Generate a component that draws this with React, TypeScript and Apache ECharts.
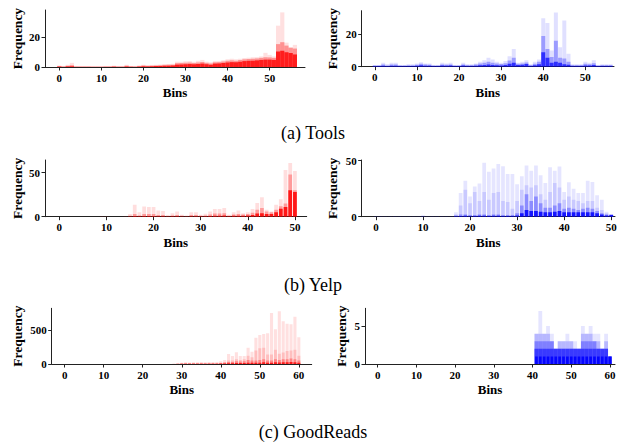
import React, { useEffect, useRef } from "react";
import * as echarts from "echarts";

// ---------- Tick labels ----------
const TOOLS_X_TICKS = [0, 10, 20, 30, 40, 50];
const YELP_X_TICKS = [0, 10, 20, 30, 40, 50];
const GOODREADS_X_TICKS = [0, 10, 20, 30, 40, 50, 60];
const TOOLS_RED_Y_TICKS = [0, 20];
const TOOLS_BLUE_Y_TICKS = [0, 20];
const YELP_RED_Y_TICKS = [0, 50];
const YELP_BLUE_Y_TICKS = [0, 50];
const GOODREADS_RED_Y_TICKS = [0, 500];
const GOODREADS_BLUE_Y_TICKS = [0, 5];

const CAPTIONS = ["(a) Tools", "(b) Yelp", "(c) GoodReads"];

// ---------- Histogram layers (frequency per bin, first bin given by *_START) ----------
// Tools, red (bins 0..56)
const TOOLS_RED_START = 0;
const TOOLS_RED_L1 = [
  1, 0.5, 1.5, 2.8, 0.6, 0.5, 0.5, 0.5, 0.4, 0.4,
  0.4, 0.6, 0.6, 0.9, 0.6, 0.6, 1.6, 0.6, 0.6, 1.1,
  1.6, 1.2, 1.4, 1.6, 1.7, 2, 2.1, 2.2, 3.6, 3.6,
  3.9, 4, 3.6, 4.2, 4.8, 3.6, 3.2, 4, 4.1, 4.6,
  5.2, 5.6, 5.2, 5.6, 6.1, 6.3, 6.6, 6.7, 7.2, 9.6,
  8.2, 7.2, 28, 37, 16.5, 13.5, 15,
];
const TOOLS_RED_L2 = [
  0.6, 0.3, 0.8, 1.2, 0.3, 0.3, 0.3, 0.3, 0.2, 0.2,
  0.2, 0.3, 0.3, 0.5, 0.3, 0.3, 0.8, 0.3, 0.3, 0.6,
  1, 0.8, 0.9, 1.1, 1.2, 1.4, 1.5, 1.6, 2.6, 2.7,
  2.9, 3, 2.7, 3.1, 3.4, 2.8, 2.4, 3.2, 3.3, 3.7,
  4.2, 4.5, 4.2, 4.7, 5.2, 5.4, 5.6, 5.8, 6.2, 6.6,
  6.5, 6.2, 15.5, 16.8, 14.5, 13, 12.5,
];
const TOOLS_RED_L3 = [
  0.3, 0.1, 0.4, 0.5, 0.1, 0.1, 0.1, 0.1, 0.1, 0.1,
  0.1, 0.1, 0.1, 0.2, 0.1, 0.1, 0.4, 0.1, 0.1, 0.3,
  0.5, 0.4, 0.5, 0.6, 0.7, 0.8, 0.9, 1, 1.6, 1.7,
  1.9, 2, 1.8, 2.1, 2.3, 1.9, 1.6, 2.3, 2.4, 2.7,
  3.1, 3.3, 3.2, 3.6, 4, 4.2, 4.3, 4.5, 4.8, 5,
  5, 4.8, 10.5, 11, 10, 9.5, 8.5,
];

// Tools, blue (bins 0..56)
const TOOLS_BLUE_START = 0;
const TOOLS_BLUE_L1 = [
  1, 1, 2.5, 1.5, 2.5, 2.5, 1, 1, 1.5, 1.5,
  2, 2.8, 2, 2, 1, 1, 2.5, 2, 2.5, 1,
  1, 2.5, 1.5, 1.5, 2, 3, 4, 5.5, 4.5, 3,
  2.5, 3.5, 6.5, 11, 2.5, 3, 4, 1.5, 3, 4.5,
  30, 27, 10, 33.5, 12, 28.5, 8, 1.5, 1.5, 1.5,
  3, 2.5, 4, 1, 1.5, 1.5, 1.5,
];
const TOOLS_BLUE_L2 = [
  0.7, 0.7, 1.3, 0.8, 1.3, 1.3, 0.7, 0.7, 0.9, 0.9,
  1.2, 1.8, 1.3, 1.2, 0.7, 0.7, 1.4, 1.2, 1.4, 0.7,
  0.7, 1.4, 1, 1, 1.3, 2, 2.5, 3, 2.5, 2,
  1.6, 2.2, 3.8, 5.5, 1.8, 2, 2.6, 1, 1.8, 3,
  19, 11, 6, 16, 5.5, 5, 3, 1, 1, 1,
  1.8, 1.5, 2.2, 0.7, 1, 1, 1,
];
const TOOLS_BLUE_L3 = [
  0.4, 0.4, 0.6, 0.4, 0.6, 0.6, 0.4, 0.4, 0.5, 0.5,
  0.6, 0.9, 0.6, 0.6, 0.4, 0.4, 0.7, 0.6, 0.7, 0.4,
  0.4, 0.7, 0.5, 0.5, 0.6, 0.9, 1.1, 1.3, 1.1, 0.9,
  0.8, 1.1, 1.8, 2.5, 1, 1.2, 1.6, 0.5, 0.9, 1.5,
  9, 5.5, 2.5, 3, 2.5, 1.5, 1.2, 0.5, 0.5, 0.5,
  0.8, 0.7, 1, 0.4, 0.5, 0.5, 0.5,
];

// Yelp, red (bins 9..50)
const YELP_RED_START = 9;
const YELP_RED_L1 = [
  0.3,
  0.3, 0, 0, 0, 0.3, 3, 13.6, 5, 11.7, 11,
  11, 7, 6.4, 2, 3.8, 6, 2.3, 1.5, 5, 5,
  2.3, 3.4, 6, 8.7, 8.7, 9.8, 2.3, 5, 7, 4,
  5, 8.7, 15.5, 22, 8, 6, 13.6, 19.7, 53, 61,
  52,
];
const YELP_RED_L2 = [
  0.1,
  0.1, 0, 0, 0, 0.1, 1, 3, 1.5, 3, 3,
  3, 2, 2, 0.8, 1.5, 2, 1, 0.6, 2, 2,
  1, 1.5, 2.5, 3.5, 3.5, 4, 1, 2.5, 3, 2.5,
  3, 4.5, 8, 10, 6, 5, 8, 12, 15, 48,
  30,
];
const YELP_RED_L3 = [
  0,
  0, 0, 0, 0, 0, 0.3, 0.8, 0.4, 0.8, 0.8,
  0.8, 0.6, 0.6, 0.3, 0.5, 0.6, 0.3, 0.2, 0.6, 0.6,
  0.4, 0.5, 0.9, 1.2, 1.2, 1.4, 0.4, 1, 1.2, 1,
  1.3, 2, 3.5, 4, 3, 3, 5, 9, 11, 30,
  28,
];

// Yelp, blue (bins 0..50)
const YELP_BLUE_START = 0;
const YELP_BLUE_L1 = [
  0.5, 0.5, 0.3, 0.3, 0.5, 0.5, 0.3, 0.3, 0.3, 0.3,
  1.2, 0.3, 0.5, 0.5, 0.5, 0.5, 0.5, 4, 21, 32,
  18, 27, 29.5, 48, 40, 43, 47, 45, 38, 38,
  29, 36, 45.5, 41, 45.5, 37, 30, 44, 41, 44.6,
  22, 30.6, 25, 21, 21, 32, 31, 19, 15, 4.5,
  2,
];
const YELP_BLUE_L2 = [
  0.3, 0.3, 0.2, 0.2, 0.3, 0.3, 0.2, 0.2, 0.2, 0.2,
  0.6, 0.2, 0.3, 0.3, 0.3, 0.3, 0.3, 2, 10, 24,
  12, 22, 14, 22, 15, 21, 22, 14, 13, 7,
  14, 24, 28, 26, 28, 20, 15, 22, 30, 26,
  15, 18, 15, 14, 12, 14, 14, 8, 6, 3,
  2,
];
const YELP_BLUE_L3 = [
  0.1, 0.1, 0.1, 0.1, 0.1, 0.1, 0.1, 0.1, 0.1, 0.1,
  0.3, 0.1, 0.1, 0.1, 0.1, 0.1, 0.1, 1, 2, 2,
  1.5, 1.5, 2, 2, 1.5, 2, 2, 1.5, 1.5, 1.5,
  3, 10, 20, 14, 18, 12, 8, 8, 10, 12,
  7, 8, 7, 6, 7, 8, 7, 5, 3, 2,
  2,
];
const YELP_BLUE_L4 = [
  0, 0, 0, 0, 0, 0, 0, 0, 0, 0,
  0, 0, 0, 0, 0, 0, 0, 0.3, 0.6, 0.8,
  0.5, 0.6, 0.8, 0.8, 0.6, 0.8, 0.8, 0.6, 0.6, 0.6,
  1, 3, 6, 5, 5, 4.5, 4, 4, 4.5, 5,
  4, 4, 4, 4, 4, 4, 4, 3, 2, 1,
  1.5,
];

// GoodReads, red (bins 28..60)
const GOODREADS_RED_START = 28;
const GOODREADS_RED_L1 = [
  5, 15,
  20, 25, 22, 25, 25, 28, 25, 28, 30, 30,
  40, 60, 147, 118, 172, 118, 118, 240, 180, 387,
  426, 441, 451, 750, 510, 775, 630, 590, 585, 695,
  392,
];
const GOODREADS_RED_L2 = [
  2, 6,
  10, 12, 11, 12, 12, 14, 12, 14, 15, 16,
  20, 30, 50, 50, 70, 60, 70, 120, 100, 200,
  230, 240, 140, 140, 210, 150, 170, 190, 200, 210,
  120,
];
const GOODREADS_RED_L3 = [
  1, 3,
  5, 6, 6, 7, 7, 8, 7, 8, 9, 9,
  12, 20, 30, 30, 40, 35, 40, 60, 50, 50,
  60, 70, 50, 50, 70, 60, 70, 70, 80, 70,
  50,
];
const GOODREADS_RED_L4 = [
  0.5, 1,
  3, 3, 3, 4, 4, 4, 4, 5, 5, 5,
  6, 8, 12, 12, 15, 14, 15, 20, 18, 18,
  20, 25, 20, 20, 25, 22, 25, 25, 28, 25,
  20,
];

// GoodReads, blue (bins 41..60)
const GOODREADS_BLUE_START = 41;
const GOODREADS_BLUE_L1 = [4, 7, 4, 5, 4, 2, 3, 3, 4, 3, 3, 2, 5, 4, 5, 4, 4, 2, 4, 1];
const GOODREADS_BLUE_L2 = [4, 4, 4, 4, 3, 2, 3, 3, 3, 3, 2, 2, 4, 4, 4, 3, 3, 2, 3, 1];
const GOODREADS_BLUE_L3 = [3, 3, 3, 3, 3, 2, 2, 2, 2, 2, 2, 2, 3, 3, 3, 3, 2, 2, 2, 1];
const GOODREADS_BLUE_L4 = [2, 2, 2, 2, 2, 2, 2, 2, 2, 2, 2, 2, 2, 2, 2, 2, 2, 2, 2, 1];
const GOODREADS_BLUE_L5 = [1, 1, 1, 1, 1, 1, 1, 1, 1, 1, 1, 1, 1, 1, 1, 1, 1, 1, 1, 1];

// ---------- Layout / style ----------
const RED = "255,0,0";
const BLUE = "0,0,255";
const SERIF = "'Liberation Serif', 'Times New Roman', serif";

type Layer = { data: number[]; start: number; alpha: number; width: number };
type Panel = {
  left: number; top: number; width: number; height: number;
  xMin: number; xMax: number; yMax: number;
  xTicks: number[]; yTicks: number[];
  rgb: string; layers: Layer[]; yNameGap: number;
};

const PANELS: Panel[] = [
  {
    left: 45, top: 10, width: 260, height: 57,
    xMin: -3.4, xMax: 58.4, yMax: 38.6,
    xTicks: TOOLS_X_TICKS, yTicks: TOOLS_RED_Y_TICKS, rgb: RED, yNameGap: 21,
    layers: [
      { data: TOOLS_RED_L1, start: TOOLS_RED_START, alpha: 0.12, width: 1 },
      { data: TOOLS_RED_L2, start: TOOLS_RED_START, alpha: 0.35, width: 1 },
      { data: TOOLS_RED_L3, start: TOOLS_RED_START, alpha: 0.8, width: 1 },
    ],
  },
  {
    left: 361.7, top: 10.7, width: 252.3, height: 56,
    xMin: -3.1, xMax: 56.8, yMax: 34.6,
    xTicks: TOOLS_X_TICKS, yTicks: TOOLS_BLUE_Y_TICKS, rgb: BLUE, yNameGap: 22,
    layers: [
      { data: TOOLS_BLUE_L1, start: TOOLS_BLUE_START, alpha: 0.12, width: 0.95 },
      { data: TOOLS_BLUE_L2, start: TOOLS_BLUE_START, alpha: 0.3, width: 0.95 },
      { data: TOOLS_BLUE_L3, start: TOOLS_BLUE_START, alpha: 0.7, width: 0.95 },
    ],
  },
  {
    left: 45, top: 160, width: 261.7, height: 56.7,
    xMin: -3.04, xMax: 52.5, yMax: 64.4,
    xTicks: YELP_X_TICKS, yTicks: YELP_RED_Y_TICKS, rgb: RED, yNameGap: 21,
    layers: [
      { data: YELP_RED_L1, start: YELP_RED_START, alpha: 0.13, width: 0.8 },
      { data: YELP_RED_L2, start: YELP_RED_START, alpha: 0.3, width: 0.8 },
      { data: YELP_RED_L3, start: YELP_RED_START, alpha: 0.85, width: 0.8 },
    ],
  },
  {
    left: 361.7, top: 160, width: 253.3, height: 56.7,
    xMin: -3.02, xMax: 50.8, yMax: 50.5,
    xTicks: YELP_X_TICKS, yTicks: YELP_BLUE_Y_TICKS, rgb: BLUE, yNameGap: 22,
    layers: [
      { data: YELP_BLUE_L1, start: YELP_BLUE_START, alpha: 0.1, width: 0.8 },
      { data: YELP_BLUE_L2, start: YELP_BLUE_START, alpha: 0.12, width: 0.8 },
      { data: YELP_BLUE_L3, start: YELP_BLUE_START, alpha: 0.3, width: 0.8 },
      { data: YELP_BLUE_L4, start: YELP_BLUE_START, alpha: 0.85, width: 0.8 },
    ],
  },
  {
    left: 51.7, top: 308.3, width: 260, height: 55.7,
    xMin: -3.33, xMax: 63.3, yMax: 819,
    xTicks: GOODREADS_X_TICKS, yTicks: GOODREADS_RED_Y_TICKS, rgb: RED, yNameGap: 27,
    layers: [
      { data: GOODREADS_RED_L1, start: GOODREADS_RED_START, alpha: 0.12, width: 0.8 },
      { data: GOODREADS_RED_L2, start: GOODREADS_RED_START, alpha: 0.15, width: 0.8 },
      { data: GOODREADS_RED_L3, start: GOODREADS_RED_START, alpha: 0.3, width: 0.8 },
      { data: GOODREADS_RED_L4, start: GOODREADS_RED_START, alpha: 0.8, width: 0.8 },
    ],
  },
  {
    left: 365, top: 308.3, width: 250, height: 55.7,
    xMin: -3.28, xMax: 61.3, yMax: 7.35,
    xTicks: GOODREADS_X_TICKS, yTicks: GOODREADS_BLUE_Y_TICKS, rgb: BLUE, yNameGap: 17,
    layers: [
      { data: GOODREADS_BLUE_L1, start: GOODREADS_BLUE_START, alpha: 0.1, width: 1 },
      { data: GOODREADS_BLUE_L2, start: GOODREADS_BLUE_START, alpha: 0.2, width: 1 },
      { data: GOODREADS_BLUE_L3, start: GOODREADS_BLUE_START, alpha: 0.3, width: 1 },
      { data: GOODREADS_BLUE_L4, start: GOODREADS_BLUE_START, alpha: 0.55, width: 1 },
      { data: GOODREADS_BLUE_L5, start: GOODREADS_BLUE_START, alpha: 0.9, width: 0.7 },
    ],
  },
];

const CAPTION_Y = [133, 285, 432];

function buildOption() {
  const grid: any[] = [];
  const xAxis: any[] = [];
  const yAxis: any[] = [];
  const series: any[] = [];
  const axisColor = "#222";
  const labelStyle = { fontFamily: SERIF, fontWeight: "bold", fontSize: 11, color: "#000" };
  const xNameStyle = { fontFamily: SERIF, fontWeight: "bold", fontSize: 13, color: "#000" };
  const yNameStyle = { fontFamily: SERIF, fontWeight: "bold", fontSize: 13.5, color: "#000" };

  PANELS.forEach((p, i) => {
    grid.push({ left: p.left, top: p.top, width: p.width, height: p.height, containLabel: false, outerBoundsMode: "none" });
    xAxis.push({
      type: "value", gridIndex: i, min: p.xMin, max: p.xMax,
      axisLine: { show: true, onZero: false, lineStyle: { color: axisColor, width: 1 } },
      axisTick: { show: true, length: 3.5, customValues: p.xTicks, lineStyle: { color: axisColor } },
      axisLabel: { customValues: p.xTicks, margin: 5, ...labelStyle },
      splitLine: { show: false },
      name: "Bins", nameLocation: "middle", nameGap: 19, nameTextStyle: xNameStyle,
    });
    yAxis.push({
      type: "value", gridIndex: i, min: 0, max: p.yMax,
      axisLine: { show: true, onZero: false, lineStyle: { color: axisColor, width: 1 } },
      axisTick: { show: true, length: 3.5, customValues: p.yTicks, lineStyle: { color: axisColor } },
      axisLabel: { customValues: p.yTicks, margin: 5, ...labelStyle },
      splitLine: { show: false },
      name: "Frequency", nameLocation: "middle", nameGap: p.yNameGap, nameTextStyle: yNameStyle,
    });
    p.layers.forEach((layer) => {
      const fill = `rgba(${p.rgb},${layer.alpha})`;
      const w = layer.width;
      const data = layer.data
        .map((v, k) => [layer.start + k, v])
        .filter((d) => d[1] > 0);
      series.push({
        type: "custom",
        xAxisIndex: i,
        yAxisIndex: i,
        clip: true,
        encode: { x: 0, y: 1 },
        data,
        renderItem: (_params: any, api: any) => {
          const x = api.value(0);
          const y = api.value(1);
          const a = api.coord([x - w / 2, 0]);
          const b = api.coord([x + w / 2, y]);
          return {
            type: "rect",
            shape: { x: a[0], y: b[1], width: b[0] - a[0], height: a[1] - b[1] },
            style: { fill },
          };
        },
      });
    });
  });

  const graphic = CAPTIONS.map((t, i) => ({
    type: "text",
    x: 313,
    y: CAPTION_Y[i],
    style: {
      text: t,
      fontFamily: SERIF,
      fontSize: 18,
      fill: "#000",
      align: "center",
      verticalAlign: "middle",
    },
  }));

  return { animation: false, backgroundColor: "#fff", grid, xAxis, yAxis, series, graphic };
}

export default function App() {
  const ref = useRef<HTMLDivElement>(null);
  useEffect(() => {
    if (!ref.current) return;
    const chart = echarts.init(ref.current, undefined, { renderer: "svg" });
    chart.setOption(buildOption() as any);
    return () => chart.dispose();
  }, []);
  return (
    <div
      ref={ref}
      style={{ position: "absolute", left: 0, top: 0, width: 621, height: 442, background: "#fff" }}
    />
  );
}
